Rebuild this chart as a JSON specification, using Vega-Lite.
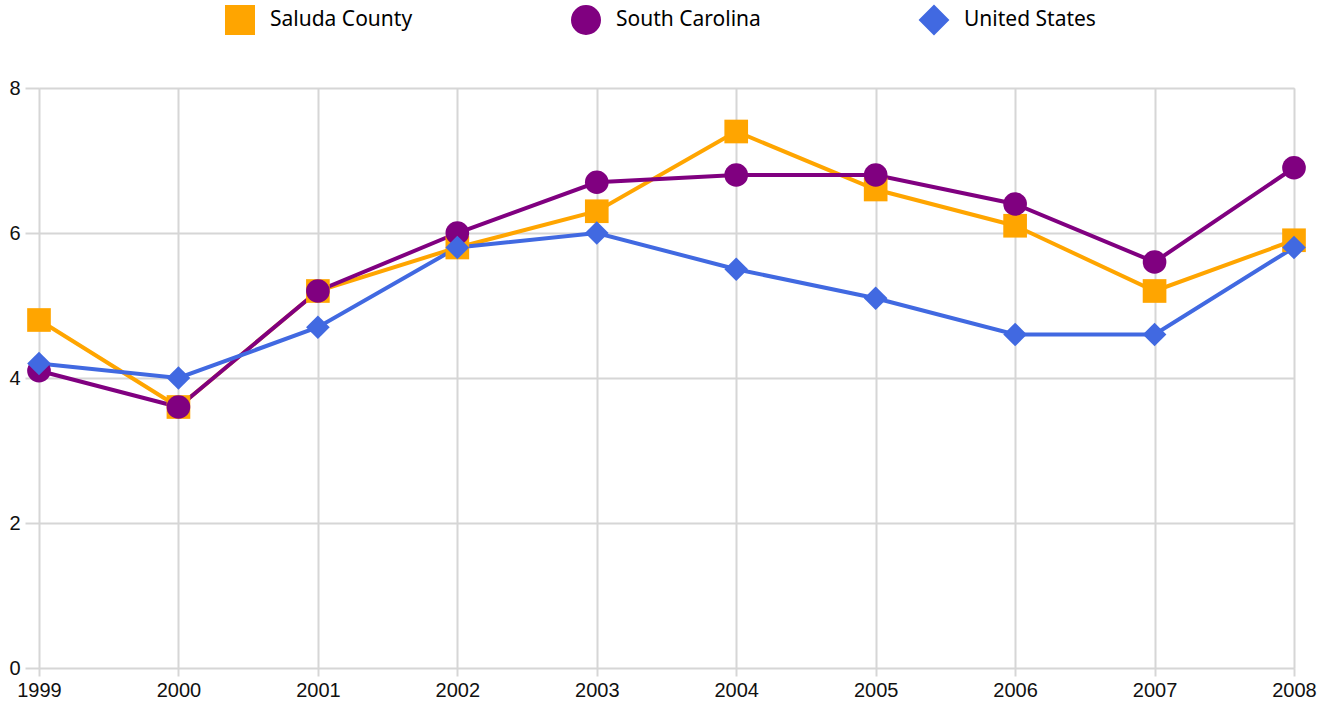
{
  "$schema": "https://vega.github.io/schema/vega-lite/v6.json",
  "width": 1255,
  "height": 580,
  "autosize": {"type": "none"},
  "padding": {"left": 39, "top": 88, "right": 37, "bottom": 38},
  "background": "white",
  "data": {
    "values": [
      {"year": "1999", "series": "Saluda County", "value": 4.8},
      {"year": "2000", "series": "Saluda County", "value": 3.6},
      {"year": "2001", "series": "Saluda County", "value": 5.2},
      {"year": "2002", "series": "Saluda County", "value": 5.8},
      {"year": "2003", "series": "Saluda County", "value": 6.3},
      {"year": "2004", "series": "Saluda County", "value": 7.4},
      {"year": "2005", "series": "Saluda County", "value": 6.6},
      {"year": "2006", "series": "Saluda County", "value": 6.1},
      {"year": "2007", "series": "Saluda County", "value": 5.2},
      {"year": "2008", "series": "Saluda County", "value": 5.9},
      {"year": "1999", "series": "South Carolina", "value": 4.1},
      {"year": "2000", "series": "South Carolina", "value": 3.6},
      {"year": "2001", "series": "South Carolina", "value": 5.2},
      {"year": "2002", "series": "South Carolina", "value": 6.0},
      {"year": "2003", "series": "South Carolina", "value": 6.7},
      {"year": "2004", "series": "South Carolina", "value": 6.8},
      {"year": "2005", "series": "South Carolina", "value": 6.8},
      {"year": "2006", "series": "South Carolina", "value": 6.4},
      {"year": "2007", "series": "South Carolina", "value": 5.6},
      {"year": "2008", "series": "South Carolina", "value": 6.9},
      {"year": "1999", "series": "United States", "value": 4.2},
      {"year": "2000", "series": "United States", "value": 4.0},
      {"year": "2001", "series": "United States", "value": 4.7},
      {"year": "2002", "series": "United States", "value": 5.8},
      {"year": "2003", "series": "United States", "value": 6.0},
      {"year": "2004", "series": "United States", "value": 5.5},
      {"year": "2005", "series": "United States", "value": 5.1},
      {"year": "2006", "series": "United States", "value": 4.6},
      {"year": "2007", "series": "United States", "value": 4.6},
      {"year": "2008", "series": "United States", "value": 5.8}
    ]
  },
  "transform": [{"calculate": "datum.series", "as": "seriesShape"}],
  "encoding": {
    "x": {
      "field": "year",
      "type": "ordinal",
      "scale": {"type": "point", "padding": 0},
      "axis": {
        "title": null,
        "labelAngle": 0,
        "domain": false,
        "grid": true,
        "gridColor": "#d6d6d6",
        "gridWidth": 2,
        "ticks": true,
        "tickColor": "#d6d6d6",
        "tickWidth": 2,
        "tickSize": 8,
        "labelPadding": 4,
        "labelFont": "Liberation Sans",
        "labelFontSize": 20,
        "labelColor": "#111"
      }
    },
    "y": {
      "field": "value",
      "type": "quantitative",
      "scale": {"domain": [0, 8], "nice": false},
      "axis": {
        "title": null,
        "values": [0, 2, 4, 6, 8],
        "domain": false,
        "grid": true,
        "gridColor": "#d6d6d6",
        "gridWidth": 2,
        "ticks": true,
        "tickColor": "#d6d6d6",
        "tickWidth": 2,
        "tickSize": 14,
        "labelPadding": 5,
        "labelFont": "Liberation Sans",
        "labelFontSize": 20,
        "labelColor": "#111"
      }
    },
    "color": {
      "field": "series",
      "type": "nominal",
      "scale": {
        "domain": ["Saluda County", "South Carolina", "United States"],
        "range": ["#FFA500", "#800080", "#4169E1"]
      },
      "legend": {
        "orient": "none",
        "legendX": 186,
        "legendY": -83,
        "direction": "horizontal",
        "title": null,
        "symbolType": "square",
        "symbolSize": 784,
        "symbolStrokeWidth": 2,
        "symbolStrokeColor": "black",
        "labelFont": "Noto Sans",
        "labelFontSize": 21,
        "labelColor": "#000",
        "labelOffset": 15,
        "columnPadding": 155
      }
    }
  },
  "layer": [
    {
      "mark": {"type": "line", "strokeWidth": 4}
    },
    {
      "mark": {"type": "point", "filled": true, "opacity": 1, "size": 560},
      "encoding": {
        "shape": {
          "field": "seriesShape",
          "type": "nominal",
          "scale": {
            "domain": ["Saluda County", "South Carolina", "United States"],
            "range": ["square", "circle", "diamond"]
          },
          "legend": null
        }
      }
    }
  ]
}
